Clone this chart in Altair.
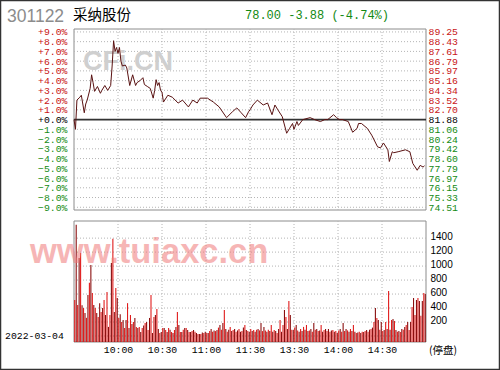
import altair as alt
import pandas as pd

# ---------------- data ----------------
stock_code = "301122"
stock_name = "采纳股份"
quote_text = "78.00 -3.88 (-4.74%)"
trade_date = "2022-03-04"
halt_text = "(停盘)"
prev_close = 81.88
watermark1 = "CFi.CN"
watermark2 = "www.tuiaxc.cn"

price_minutes = [0, 1, 2, 4, 5, 7, 8, 9, 11, 12, 13, 14, 16, 18, 19, 21, 23, 25,
                 26, 27, 28, 29, 30, 31, 32, 33, 35, 36, 38, 40, 42, 43, 45, 47,
                 48, 50, 52, 54, 55, 56, 57, 58, 59, 60, 61, 64, 67, 71, 74, 78,
                 81, 84, 86, 91, 95, 99, 104, 108, 111, 114, 117, 119, 120, 122,
                 125, 129, 132, 135, 137, 139, 142, 145, 147, 149, 150, 152, 153,
                 156, 161, 164, 168, 171, 173, 177, 179, 181, 183, 187, 190, 193,
                 194, 196, 200, 203, 207, 209, 211, 214, 215, 217, 218, 221, 226,
                 229, 231, 234, 236, 238, 239]
price_pct = [0.0, -1.0, 2.0, 2.3, 2.5, 0.7, 1.6, 2.0, 3.2, 4.6, 3.8, 2.9, 3.4, 2.7,
             3.0, 3.5, 3.0, 3.5, 5.5, 8.1, 7.0, 7.4, 6.8, 7.4, 6.0, 5.5, 5.6, 5.3,
             3.5, 4.6, 3.5, 3.8, 4.0, 4.3, 3.6, 3.4, 3.2, 2.2, 3.0, 4.1, 3.5, 3.8,
             3.0, 2.8, 1.8, 2.5, 2.3, 1.7, 2.0, 1.3, 2.0, 1.7, 2.2, 2.2, 1.8, 1.3,
             0.2, 0.8, 1.2, 0.7, 0.2, 0.8, 1.0, 1.5, 2.0, 1.5, 1.7, 0.5, 1.5, 1.0,
             0.3, -1.4, -0.9, -0.4, -1.0, -0.2, -0.6, 0.0, 0.2, 0.0, -0.2, 0.0,
             0.0, 0.5, 0.2, 0.0, 0.0, -0.2, -1.3, -0.9, -0.4, -0.4, -0.9, -1.6,
             -2.8, -2.9, -2.4, -3.1, -4.3, -3.3, -3.4, -3.3, -3.1, -3.3, -4.5,
             -5.2, -4.7, -4.87, -4.74]

volume = [
    515, 1590, 443, 1115, 1187, 440, 400, 330, 260, 586,
    760, 1015, 615, 443, 400, 330, 270, 470, 343, 400,
    515, 300, 630, 130, 300, 1045, 1390, 343, 686, 543,
    258, 310, 200, 229, 114, 229, 470, 114, 300, 170,
    200, 258, 130, 114, 130, 57, 114, 150, 186, 200,
    86, 258, 586, 43, 272, 300, 386, 100, 43, 57,
    114, 114, 86, 57, 114, 90, 57, 43, 86, 130,
    343, 157, 57, 57, 90, 114, 114, 86, 57, 57,
    72, 86, 60, 43, 29, 29, 29, 50, 43, 60,
    43, 43, 70, 100, 60, 80, 70, 86, 120, 157,
    90, 186, 372, 100, 60, 90, 130, 70, 86, 100,
    60, 80, 100, 60, 70, 120, 157, 86, 70, 60,
    100, 70, 86, 60, 90, 100, 80, 186, 70, 130,
    80, 60, 90, 70, 157, 60, 86, 70, 43, 100,
    229, 60, 157, 372, 272, 100, 500, 300, 90, 86,
    120, 157, 80, 60, 100, 70, 130, 90, 157, 70,
    80, 100, 60, 186, 90, 100, 70, 80, 157, 60,
    86, 100, 70, 100, 60, 80, 86, 60, 70, 43,
    80, 100, 60, 186, 70, 100, 80, 60, 100, 70,
    157, 60, 43, 50, 60, 43, 60, 57, 70, 86,
    60, 90, 100, 120, 200, 400, 258, 229, 90, 200,
    70, 86, 200, 100, 643, 90, 229, 243, 215, 86,
    60, 70, 57, 100, 90, 130, 157, 200, 86, 200,
    415, 543, 300, 515, 543, 500, 290, 500, 615, 600,
]

pct_ticks = [-9, -8, -7, -6, -5, -4, -3, -2, -1, 0, 1, 2, 3, 4, 5, 6, 7, 8, 9]
vol_ticks = [200, 400, 600, 800, 1000, 1200, 1400]
vol_grid = [0, 200, 400, 600, 800, 1000, 1200, 1400]
time_ticks = [30, 60, 90, 120, 150, 180, 210]
time_labels = ["10:00", "10:30", "11:00", "11:30", "13:30", "14:00", "14:30"]

# ---------------- layout (pixels) ----------------
W, H = 500, 370
PX0, PX1 = 74, 426
PY0, PY1 = 29, 210
VY0, VY1 = 221, 342

x_scale = alt.Scale(domain=[0, 240], range=[PX0, PX1], nice=False, zero=False)
pct_scale = alt.Scale(domain=[-9.28, 9.3], range=[PY1, PY0], nice=False, zero=False)
vol_scale = alt.Scale(domain=[-86, 1645], range=[VY1, VY0], nice=False, zero=False)

MONO = "Liberation Mono"
RED = "#c81414"
GREEN = "#138a13"
GRID = "#b4b4b4"

one = alt.Data(values=[{}])

price_df = pd.DataFrame({"m": price_minutes, "p": price_pct})
vol_df = pd.DataFrame({"m": [i + 0.5 for i in range(len(volume))], "v": volume,
                       "c": ["a" if i % 2 == 0 else "b" for i in range(len(volume))]})

label_color = ("datum.value > 0.001 ? '" + RED + "' : (datum.value < -0.001 ? '"
               + GREEN + "' : '#000000')")

# frames
price_frame = alt.Chart(one).mark_rect(fill="white", stroke="#8c8c8c", strokeWidth=1).encode(
    x=alt.value(PX0), x2=alt.value(PX1), y=alt.value(PY0), y2=alt.value(PY1))
vol_frame = alt.Chart(one).mark_rect(fill="white", stroke="#8c8c8c", strokeWidth=1).encode(
    x=alt.value(PX0), x2=alt.value(PX1), y=alt.value(VY0), y2=alt.value(VY1))

# price horizontal grid + left axis
pgrid = alt.Chart(pd.DataFrame({"v": [t for t in pct_ticks if t != 0]})).mark_rule(
    color=GRID, strokeWidth=1, strokeDash=[1, 2]).encode(
    x=alt.value(PX0), x2=alt.value(PX1),
    y=alt.Y("v:Q", scale=pct_scale, axis=alt.Axis(
        orient="left", offset=-PX0, values=pct_ticks, title=None, domain=False,
        ticks=False, grid=False, labelPadding=7, labelFont=MONO, labelFontSize=9.8,
        labelOverlap=False, labelBound=False, labelFlush=False,
        labelColor=alt.ExprRef(label_color),
        labelExpr="(datum.value >= 0 ? '+' : '−') + format(abs(datum.value), '.1f') + '%'")))

# zero line + right price axis
zero_line = alt.Chart(pd.DataFrame({"v": [0]})).mark_rule(color="#333333", strokeWidth=1.6).encode(
    x=alt.value(PX0), x2=alt.value(PX1),
    y=alt.Y("v:Q", scale=pct_scale, axis=alt.Axis(
        orient="right", offset=-(W - PX1), values=pct_ticks, title=None, domain=False,
        ticks=False, grid=False, labelPadding=2, labelFont=MONO, labelFontSize=9.8,
        labelOverlap=False, labelBound=False, labelFlush=False,
        labelColor=alt.ExprRef(label_color),
        labelExpr="format(" + str(prev_close) + " * (1 + datum.value / 100), '.2f')")))

# vertical grid in price panel
pvgrid = alt.Chart(pd.DataFrame({"m": time_ticks})).mark_rule(
    color=GRID, strokeWidth=1, strokeDash=[1, 2]).encode(
    x=alt.X("m:Q", scale=x_scale, axis=None), y=alt.value(PY0), y2=alt.value(PY1))

# vertical grid in volume panel + time axis
labels_js = "[" + ",".join("'" + s + "'" for s in time_labels) + "]"
ticks_js = "[" + ",".join(str(t) for t in time_ticks) + "]"
vvgrid = alt.Chart(pd.DataFrame({"m": time_ticks})).mark_rule(
    color=GRID, strokeWidth=1, strokeDash=[1, 2]).encode(
    x=alt.X("m:Q", scale=x_scale, axis=alt.Axis(
        orient="bottom", offset=-(H - VY1), values=time_ticks, title=None, domain=False,
        ticks=False, grid=False, labelPadding=2, labelFont=MONO, labelFontSize=9.8,
        labelOverlap=False, labelBound=False, labelFlush=False,
        labelColor="#000000",
        labelExpr=labels_js + "[indexof(" + ticks_js + ", datum.value)]")),
    y=alt.value(VY0), y2=alt.value(VY1))

# volume horizontal grid + right axis
vgrid = alt.Chart(pd.DataFrame({"v": vol_grid})).mark_rule(
    color=GRID, strokeWidth=1, strokeDash=[1, 2]).encode(
    x=alt.value(PX0), x2=alt.value(PX1),
    y=alt.Y("v:Q", scale=vol_scale, axis=alt.Axis(
        orient="right", offset=-(W - PX1), values=vol_ticks, title=None, domain=False,
        ticks=False, grid=False, labelPadding=4, labelOffset=-1.5, format="d",
        labelOverlap=False, labelBound=False, labelFlush=False,
        labelFont="Liberation Sans", labelFontSize=10, labelColor="#000000")))

bars = alt.Chart(vol_df).mark_rule(strokeWidth=1.1).encode(
    x=alt.X("m:Q", scale=x_scale, axis=None),
    y=alt.Y("v:Q", scale=vol_scale, axis=None),
    y2=alt.value(VY1),
    color=alt.Color("c:N", scale=alt.Scale(domain=["a", "b"], range=["#e01c1c", "#8a0f0f"]),
                    legend=None))

wm1 = alt.Chart(one).mark_text(font="Liberation Sans", fontWeight="bold", fontSize=27,
                               color="#cfcfcf", align="left", baseline="alphabetic").encode(
    x=alt.value(83), y=alt.value(70), text=alt.value(watermark1))

line = alt.Chart(price_df).mark_line(color="#5a1212", strokeWidth=1).encode(
    x=alt.X("m:Q", scale=x_scale, axis=None),
    y=alt.Y("p:Q", scale=pct_scale, axis=None))

wm2 = alt.Chart(one).mark_text(font="Liberation Sans", fontWeight="bold", fontSize=34.5,
                               color="#f07a7a", opacity=0.55, align="left",
                               baseline="alphabetic").encode(
    x=alt.value(30), y=alt.value(263), text=alt.value(watermark2))

t_code = alt.Chart(one).mark_text(font="Liberation Sans", fontSize=17.5, color="#8c8c8c",
                                  align="left", baseline="alphabetic").encode(
    x=alt.value(7), y=alt.value(22), text=alt.value(stock_code))
t_name = alt.Chart(one).mark_text(font="Noto Sans CJK SC", fontSize=14.5, color="#000000",
                                  align="left", baseline="alphabetic").encode(
    x=alt.value(73), y=alt.value(20), text=alt.value(stock_name))
t_quote = alt.Chart(one).mark_text(font=MONO, fontSize=12, color=GREEN,
                                   align="left", baseline="alphabetic").encode(
    x=alt.value(245), y=alt.value(18.5), text=alt.value(quote_text))
t_date = alt.Chart(one).mark_text(font=MONO, fontSize=9.8, color="#000000",
                                  align="left", baseline="alphabetic").encode(
    x=alt.value(5), y=alt.value(339), text=alt.value(trade_date))
t_halt = alt.Chart(one).mark_text(font="Noto Sans CJK SC", fontSize=10.5, color="#000000",
                                  align="left", baseline="middle").encode(
    x=alt.value(429), y=alt.value(351), text=alt.value(halt_text))

outer = alt.Chart(one).mark_rect(fill=None, stroke="#333333", strokeWidth=1.5).encode(
    x=alt.value(0.5), x2=alt.value(W - 0.5), y=alt.value(0.5), y2=alt.value(H - 0.5))

chart = alt.layer(
    price_frame, vol_frame, pgrid, pvgrid, vvgrid, vgrid, bars, wm1, zero_line, line,
    wm2, t_code, t_name, t_quote, t_date, t_halt, outer
).resolve_scale(
    x="independent", y="independent", color="independent"
).properties(
    width=W, height=H, padding=0,
    autosize=alt.AutoSizeParams(type="none"),
    background="white",
).configure_view(strokeWidth=0)

chart.save("out.html", embed_options={"renderer": "svg", "actions": False})
